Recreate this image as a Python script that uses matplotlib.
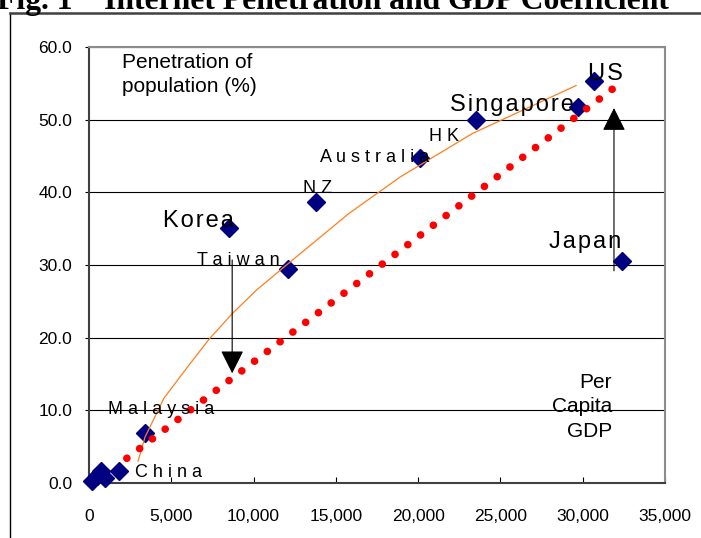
import matplotlib
matplotlib.use("Agg")
import matplotlib.pyplot as plt
from matplotlib.lines import Line2D
from matplotlib.ticker import FuncFormatter, MultipleLocator


# per capita GDP (US$) vs internet penetration (% of population)
COUNTRIES = ["US", "Singapore", "HK", "Australia", "NZ", "Korea",
             "Taiwan", "Japan", "Malaysia", "China"]
GDP = [30700, 29700, 23500, 20100, 13800, 8500, 12100, 32400, 3400, 1850]
PENETRATION = [55.3, 51.7, 49.9, 44.7, 38.7, 35.1, 29.4, 30.5, 6.9, 1.7]

# unlabelled low-income points near the origin
OTHER_GDP = [200, 500, 700, 1000]
OTHER_PENETRATION = [0.3, 1.0, 1.6, 0.7]

# linear trend (red dotted)
LINEAR_GDP = [2300, 31800]
LINEAR_PEN = [3.4, 54.2]

# curved trend (orange)
CURVE_GDP = [2980, 3400, 4560, 6000, 7300, 8700, 10200, 12000, 15800,
             18900, 23300, 29600]
CURVE_PEN = [3.0, 6.3, 11.7, 16.0, 19.8, 23.3, 26.6, 30.0, 37.1,
             42.1, 48.1, 54.7]

TITLE = "Fig. 1    Internet Penetration and GDP Coefficient"

# label placement (data coords, left/baseline) and size
LABEL_POS = {
    "US": (30310, 55.4, 17),
    "Singapore": (21910, 51.2, 17),
    "HK": (20630, 47.0, 13),
    "Australia": (14060, 44.2, 13),
    "NZ": (13020, 39.9, 13),
    "Korea": (4500, 35.2, 17),
    "Taiwan": (6570, 30.0, 13),
    "Japan": (27940, 32.3, 17),
    "Malaysia": (1160, 9.5, 13),
    "China": (2800, 0.8, 13),
}

TAIWAN_ARROW = ((8700, 30.7), (8700, 15.1))
JAPAN_ARROW = ((31900, 29.2), (31900, 51.6))

SANS = ["Liberation Sans", "DejaVu Sans"]


def spaced(text, size):
    # Excel-style letter spacing
    sep = "\u200a" if size > 15 else " "
    return sep.join(text)


def main():
    plt.rcParams["font.family"] = SANS

    fig = plt.figure(figsize=(7.01, 5.38), dpi=100)
    ax = fig.add_axes([89 / 701, 1 - 483 / 538, 576 / 701, 436 / 538])

    # figure frame (left + top only visible)
    fig.add_artist(Line2D([10 / 701, 10 / 701], [0, 1 - 13 / 538],
                          transform=fig.transFigure, color="black", lw=1))
    fig.add_artist(Line2D([10 / 701, 1], [1 - 13 / 538, 1 - 13 / 538],
                          transform=fig.transFigure, color="#404040", lw=1.8))

    fig.text(-0.004, 1 - 9 / 538, TITLE, ha="left", va="baseline",
             fontsize=22.8, fontweight="bold", family="Liberation Serif")

    ax.set_xlim(0, 35000)
    ax.set_ylim(0, 60)
    ax.yaxis.set_major_locator(MultipleLocator(10))
    ax.xaxis.set_major_locator(MultipleLocator(5000))
    ax.yaxis.set_major_formatter(FuncFormatter(lambda v, p: f"{v:.1f}"))
    ax.xaxis.set_major_formatter(FuncFormatter(lambda v, p: f"{v:,.0f}"))
    ax.tick_params(axis="y", direction="out", length=3, pad=9, labelsize=12.5)
    ax.tick_params(axis="x", direction="in", length=4.5, pad=19, labelsize=12.5)

    ax.grid(axis="y", color="black", lw=0.8)
    ax.set_axisbelow(True)
    for side in ["top", "right"]:
        ax.spines[side].set_color("#8c8c8c")
        ax.spines[side].set_linewidth(1.5)
    for side in ["left", "bottom"]:
        ax.spines[side].set_color("#404040")
        ax.spines[side].set_linewidth(1.5)

    ax.plot(GDP + OTHER_GDP, PENETRATION + OTHER_PENETRATION, "D",
            color="#000080", ms=8.8, zorder=3, clip_on=False)

    ax.plot(CURVE_GDP, CURVE_PEN, color="#ff7f1e", lw=0.9, zorder=4,
            solid_joinstyle="round")
    ax.plot(LINEAR_GDP, LINEAR_PEN, color="red", lw=5.5,
            ls=(0, (0.01, 2.09)), dash_capstyle="round", zorder=5)

    for (x0, y0), (x1, y1) in [TAIWAN_ARROW, JAPAN_ARROW]:
        ax.annotate("", xy=(x1, y1), xytext=(x0, y0),
                    arrowprops=dict(arrowstyle="-|>,head_length=0.72,head_width=0.36",
                                    mutation_scale=20, color="black", lw=0.8,
                                    shrinkA=0, shrinkB=0), zorder=6)

    for name in COUNTRIES:
        x, y, size = LABEL_POS[name]
        ax.text(x, y, spaced(name, size), fontsize=size, ha="left",
                va="baseline", zorder=7)

    ax.text(2000, 59.2, "Penetration of\npopulation (%)", fontsize=15,
            ha="left", va="top", linespacing=1.35)
    ax.text(31770, 15.2, "Per\nCapita\nGDP", fontsize=15, ha="right",
            va="top", multialignment="right", linespacing=1.38)

    fig.savefig("out.png", dpi=100)


if __name__ == "__main__":
    main()
